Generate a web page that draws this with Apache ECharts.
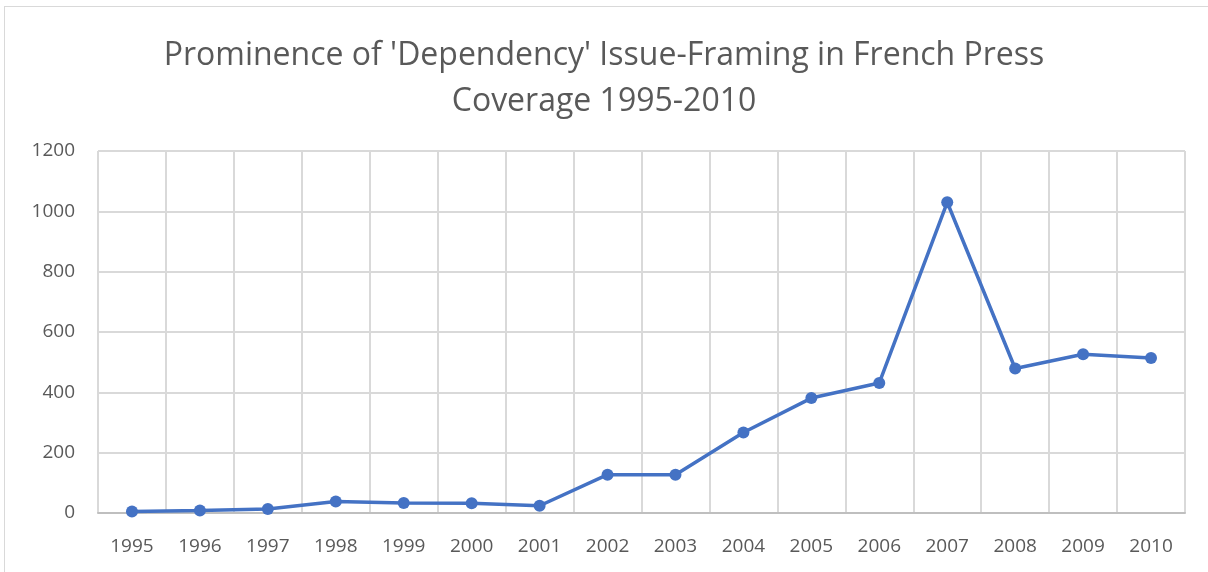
<!DOCTYPE html>
<html>
<head>
<meta charset="utf-8">
<script src="https://cdn.jsdelivr.net/npm/echarts@6/dist/echarts.min.js"></script>
<style>
  html, body { margin: 0; padding: 0; background: #fff; }
  #chart { position: absolute; left: 0; top: 0; width: 1208px; height: 572px; }
  #frame { position: absolute; left: 4px; top: 6px; width: 1220px; height: 600px; border: 1px solid #d9d9d9; }
</style>
</head>
<body>
<div id="frame"></div>
<div id="chart"></div>
<script>
// years on the x axis
var years = ['1995', '1996', '1997', '1998', '1999', '2000', '2001', '2002',
             '2003', '2004', '2005', '2006', '2007', '2008', '2009', '2010'];
// number of articles
var counts = [5, 8, 13, 38, 33, 32, 24, 127, 127, 267, 381, 431, 1030, 479, 526, 514];

var titleText = "Prominence of 'Dependency' Issue-Framing in French Press\nCoverage 1995-2010";

var myChart = echarts.init(document.getElementById('chart'));
var option = {
    animation: false,
    title: {
        text: titleText,
        left: 'center',
        top: 28,
        textStyle: {
            fontFamily: 'Open Sans',
            fontWeight: 'normal',
            fontSize: 32,
            lineHeight: 46,
            color: '#595959'
        }
    },
    grid: { left: 98, right: 23, top: 151, bottom: 59 },
    xAxis: {
        type: 'category',
        data: years,
        boundaryGap: true,
        axisLine: { lineStyle: { color: '#bfbfbf', width: 2 } },
        axisTick: { show: false },
        axisLabel: { color: '#595959', fontSize: 19, fontFamily: 'Open Sans', margin: 24 },
        splitLine: { show: true, lineStyle: { color: '#d9d9d9', width: 2 } }
    },
    yAxis: {
        type: 'value',
        min: 0,
        max: 1200,
        interval: 200,
        axisLine: { show: false },
        axisTick: { show: false },
        axisLabel: {
            color: '#595959', fontSize: 19, fontFamily: 'Open Sans', margin: 23,
            formatter: function (v) { return String(v); }
        },
        splitLine: { lineStyle: { color: '#d9d9d9', width: 2 } }
    },
    series: [{
        type: 'line',
        data: counts,
        symbol: 'circle',
        symbolSize: 12,
        itemStyle: { color: '#4472c4' },
        lineStyle: { color: '#4472c4', width: 3.5 }
    }]
};
myChart.setOption(option);
</script>
</body>
</html>
